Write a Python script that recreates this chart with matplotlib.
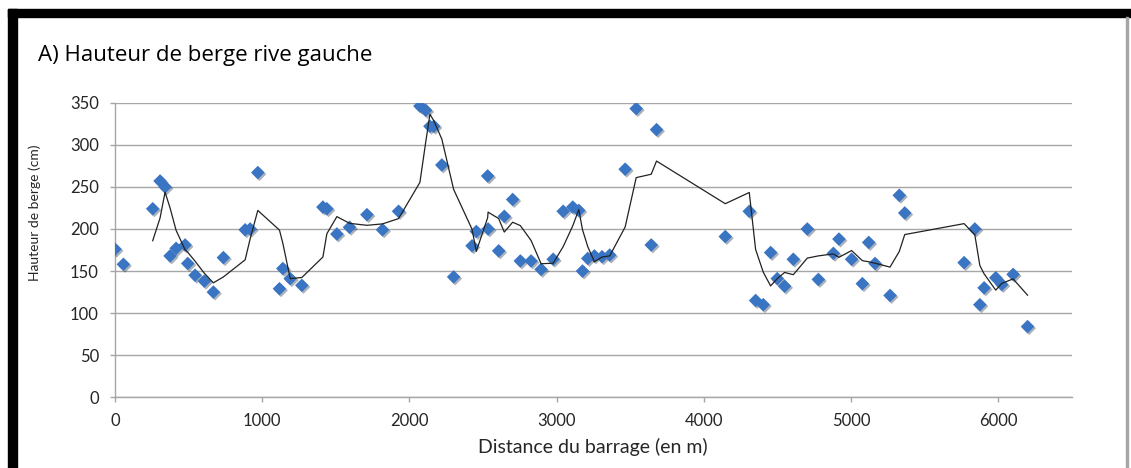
import matplotlib
matplotlib.use('Agg')
import matplotlib.pyplot as plt
import matplotlib.patheffects as pe
from matplotlib.patches import Rectangle
import numpy as np

# Distance du barrage (m) et hauteur de berge (cm), rive gauche
distance = [0, 57, 256, 306, 340, 374, 415, 476, 494, 544, 607, 668, 736, 884, 918,
            970, 1117, 1140, 1190, 1269, 1412, 1439, 1507, 1593, 1711, 1817, 1926,
            2071, 2110, 2139, 2166, 2220, 2300, 2425, 2454, 2531, 2534, 2606, 2644,
            2701, 2753, 2826, 2894, 2976, 3044, 3109, 3150, 3175, 3211, 3256, 3308,
            3360, 3465, 3540, 3642, 3678, 4145, 4308, 4351, 4403, 4453, 4498, 4548,
            4607, 4702, 4777, 4879, 4917, 5003, 5076, 5119, 5162, 5264, 5327, 5364,
            5767, 5840, 5874, 5903, 5982, 6023, 6100, 6198]
hauteur = [176, 158, 224, 257, 250, 168, 177, 181, 159, 145, 138, 125, 166, 199, 200,
           267, 129, 153, 141, 133, 226, 224, 194, 202, 217, 199, 221,
           346, 341, 322, 322, 276, 143, 180, 197, 263, 200, 174, 215,
           235, 162, 162, 152, 164, 221, 226, 222, 150, 165, 168, 167,
           169, 271, 343, 181, 318, 191, 221, 115, 110, 172, 141, 132,
           164, 200, 140, 171, 188, 164, 135, 184, 159, 121, 240, 219,
           160, 200, 110, 130, 142, 134, 146, 84]

x_ticks = [0, 1000, 2000, 3000, 4000, 5000, 6000]
y_ticks = [0, 50, 100, 150, 200, 250, 300, 350]

PERIODE = 3  # moyenne mobile (courbe de tendance)


def main():
    plt.rcParams['font.family'] = ['Lato', 'DejaVu Sans']

    W, H = 1131, 468
    fig = plt.figure(figsize=(W / 100, H / 100), dpi=100)

    # cadre noir (haut et gauche) + fin trait gris a droite
    fig.patches.append(Rectangle((8 / W, 0), 9 / W, 1 - 9 / H, transform=fig.transFigure,
                                 color='black', zorder=0))
    fig.patches.append(Rectangle((8 / W, 1 - 17 / H), 1 - 8 / W, 8 / H,
                                 transform=fig.transFigure, color='black', zorder=0))
    fig.patches.append(Rectangle((1126 / W, 0), 1.5 / W, 1 - 17 / H,
                                 transform=fig.transFigure, color='#a6a6a6', zorder=0))

    ax = fig.add_axes([115 / W, 70.7 / H, 957 / W, 294.6 / H])

    x = np.array(distance)
    y = np.array(hauteur)
    moy = np.convolve(y, np.ones(PERIODE) / PERIODE, mode='valid')

    ax.scatter(x, y, marker='D', s=48, color='#3a75c4', zorder=3, linewidths=0,
               path_effects=[pe.SimplePatchShadow(offset=(1.2, -1.2), alpha=0.35),
                             pe.Normal()])
    ax.plot(x[PERIODE - 1:], moy, color='#222222', lw=0.9, zorder=4)

    ax.set_xlim(0, 6500)
    ax.set_ylim(0, 350)
    ax.set_xticks(x_ticks)
    ax.set_yticks(y_ticks)
    ax.grid(axis='y', color='#a6a6a6', lw=1.0)
    ax.set_axisbelow(True)
    for s in ['top', 'right']:
        ax.spines[s].set_visible(False)
    for s in ['left', 'bottom']:
        ax.spines[s].set_color('#a6a6a6')
        ax.spines[s].set_linewidth(1.0)
    ax.tick_params(axis='both', direction='out', length=3.6, width=1.0,
                   color='#a6a6a6', labelsize=12, labelcolor='#262626')
    ax.tick_params(axis='y', pad=8)
    ax.tick_params(axis='x', pad=8)

    fig.text(38 / W, 1 - 61 / H, 'A) Hauteur de berge rive gauche', fontsize=16,
             family=['Open Sans', 'DejaVu Sans'],
             ha='left', va='baseline', color='black')
    fig.text(593 / W, 1 - 453 / H, 'Distance du barrage (en m)', fontsize=14,
             ha='center', va='baseline', color='#262626')
    fig.text(35 / W, 1 - 213 / H, 'Hauteur de berge (cm)', fontsize=10,
             ha='center', va='center', rotation=90, color='#262626')

    fig.savefig('out.png', dpi=100)


if __name__ == '__main__':
    main()
